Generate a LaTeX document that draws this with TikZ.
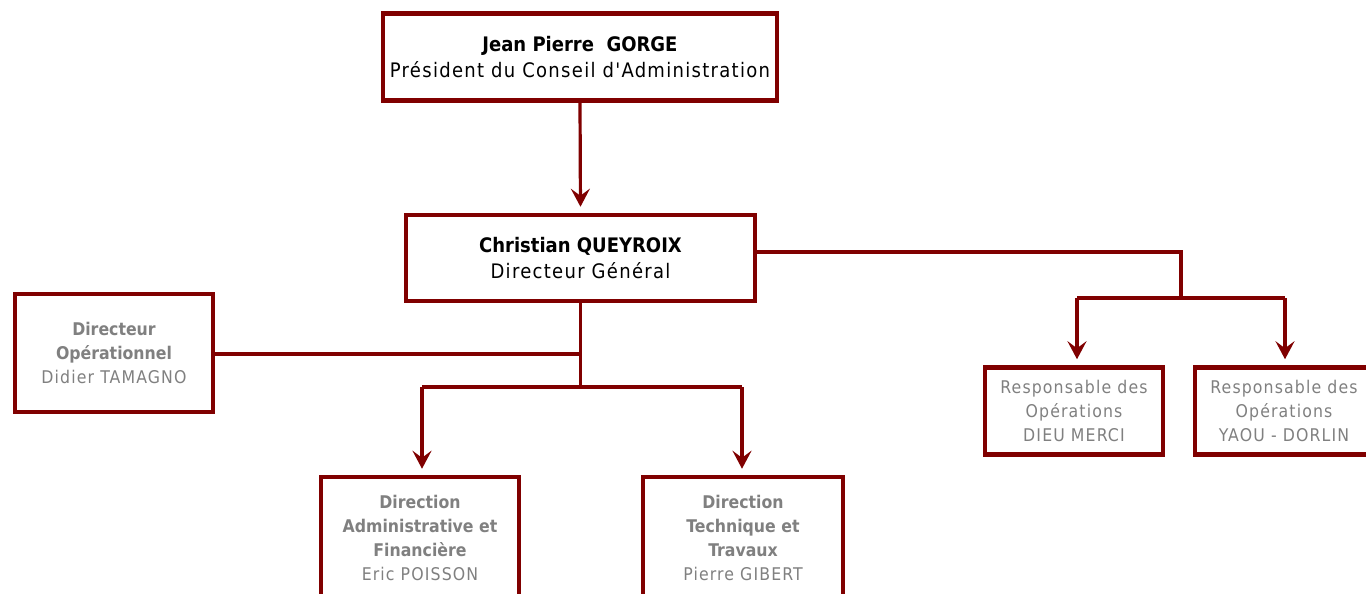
\documentclass[tikz,border=0pt]{standalone}
\usepackage{fontspec}
\setmainfont{DejaVu Sans Condensed}
\newfontfamily\spc{DejaVu Sans Condensed}[LetterSpace=6.5]
\usetikzlibrary{arrows.meta}
\definecolor{dred}{RGB}{128,0,0}
\definecolor{tgray}{RGB}{128,128,128}
\begin{document}
\begin{tikzpicture}[x=1pt,y=-1pt,
  box/.style={draw=dred,line width=4.5pt,fill=white,align=center,inner sep=0pt},
  topbox/.style={box,font=\fontsize{20}{26}\selectfont,text=black},
  lowbox/.style={box,font=\fontsize{17.5}{24}\selectfont,text=tgray},
  conn/.style={draw=dred,line width=3.2pt},
  arr/.style={conn,-{Stealth[length=18pt,width=19pt,inset=7pt]},shorten >=6pt}]
\useasboundingbox (0,0) rectangle (1366,594);
\clip (0,0) rectangle (1366,594);
\fill[white] (0,0) rectangle (1366,594);
% nodes
\node[topbox,minimum width=394pt,minimum height=87pt] (pres) at (580,57)
  {\textbf{Jean Pierre\ \ GORGE}\\{\spc Président du Conseil d'Administration}};
\node[topbox,minimum width=349pt,minimum height=86pt] (dg) at (580.5,258)
  {\textbf{Christian QUEYROIX}\\{\spc Directeur Général}};
\node[lowbox,minimum width=198pt,minimum height=118pt] (dop) at (114,353)
  {\textbf{Directeur}\\\textbf{Opérationnel}\\{\spc Didier TAMAGNO}};
\node[lowbox,minimum width=198pt,minimum height=122pt] (daf) at (420,538)
  {\textbf{Direction}\\\textbf{Administrative et}\\\textbf{Financière}\\{\spc Eric POISSON}};
\node[lowbox,minimum width=200pt,minimum height=122pt] (dtt) at (743,538)
  {\textbf{Direction}\\\textbf{Technique et}\\\textbf{Travaux}\\{\spc Pierre GIBERT}};
\node[lowbox,minimum width=178pt,minimum height=87pt,font=\fontsize{17.5}{24}\selectfont\spc] (rop1) at (1074,411)
  {Responsable des\\Opérations\\DIEU MERCI};
\node[lowbox,minimum width=178pt,minimum height=87pt,font=\fontsize{17.5}{24}\selectfont\spc] (rop2) at (1284,411)
  {Responsable des\\Opérations\\YAOU - DORLIN};
% junction coordinates
\coordinate (j1) at (580.5,387);
\coordinate (jl) at (422,387);
\coordinate (jr) at (742,387);
\coordinate (jd) at (580.5,354);
\coordinate (k0) at (1181,252);
\coordinate (k1) at (1181,298);
\coordinate (kl) at (1077,298);
\coordinate (kr) at (1285,298);
% connectors
\draw[arr] (pres.south) -- (dg.north);
\draw[conn] (dg.south) -- (j1);
\draw[conn] (jl) -- (jr);
\draw[arr] (jl) -- (jl |- daf.north);
\draw[arr] (jr) -- (jr |- dtt.north);
\draw[conn] (dop.east |- jd) -- ([xshift=1.5pt]jd);
\draw[conn] (dg.east |- k0) -- (k0) -- (k1);
\draw[conn] (kl) -- (kr);
\draw[arr] (kl) -- (kl |- rop1.north);
\draw[arr] (kr) -- (kr |- rop2.north);
\end{tikzpicture}
\end{document}
